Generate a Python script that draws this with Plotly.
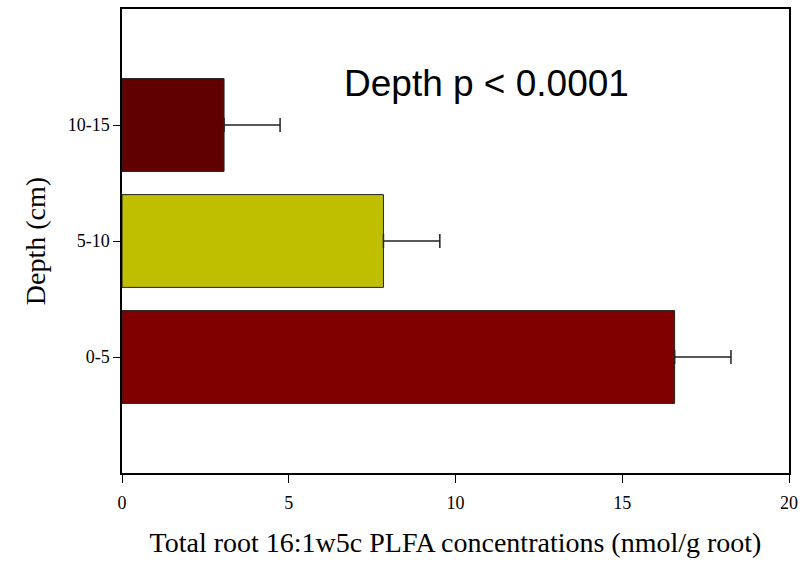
import plotly.graph_objects as go

depths = ["0-5", "5-10", "10-15"]
values = [16.57, 7.84, 3.06]
errors = [1.69, 1.69, 1.68]
colors = ["#800000", "#bfbf00", "#600000"]

x_ticks = [0, 5, 10, 15, 20]
x_title = "Total root 16:1w5c PLFA concentrations (nmol/g root)"
y_title = "Depth (cm)"
note = "Depth p < 0.0001"

fig = go.Figure()
fig.add_trace(go.Bar(
    y=depths, x=values, orientation="h", width=0.8,
    marker=dict(color=colors, line=dict(color="#222222", width=1)),
    error_x=dict(type="data", array=errors, symmetric=False, arrayminus=[0, 0, 0],
                 color="#222222", thickness=1.5, width=7),
    showlegend=False,
))

fig.add_annotation(x=10.93, y=2.36, xref="x", yref="y", text=note, showarrow=False,
                   font=dict(family="Liberation Sans, Arial", size=37, color="black"))

fig.update_layout(
    width=809, height=561,
    margin=dict(l=122, r=20, t=7, b=88),
    plot_bgcolor="white", paper_bgcolor="white",
    font=dict(family="Liberation Serif, Times New Roman", color="black"),
)
fig.update_xaxes(
    range=[0, 20], tickvals=x_ticks, ticktext=[str(t) for t in x_ticks],
    showgrid=False, zeroline=False, showline=True, linecolor="black", linewidth=1.5,
    mirror=True, ticks="outside", ticklen=8, tickwidth=1, tickcolor="black",
    ticklabelstandoff=5,
    tickfont=dict(size=18), title=dict(text=x_title, font=dict(size=28), standoff=20),
)
fig.update_yaxes(
    type="category", categoryorder="array", categoryarray=depths, range=[-1, 3],
    showgrid=False, zeroline=False, showline=True, linecolor="black", linewidth=1.5,
    mirror=True, ticks="outside", ticklen=7, tickwidth=1, tickcolor="black",
    tickfont=dict(size=18), title=dict(text=y_title, font=dict(size=28), standoff=14),
)

fig.write_html("out.html")
